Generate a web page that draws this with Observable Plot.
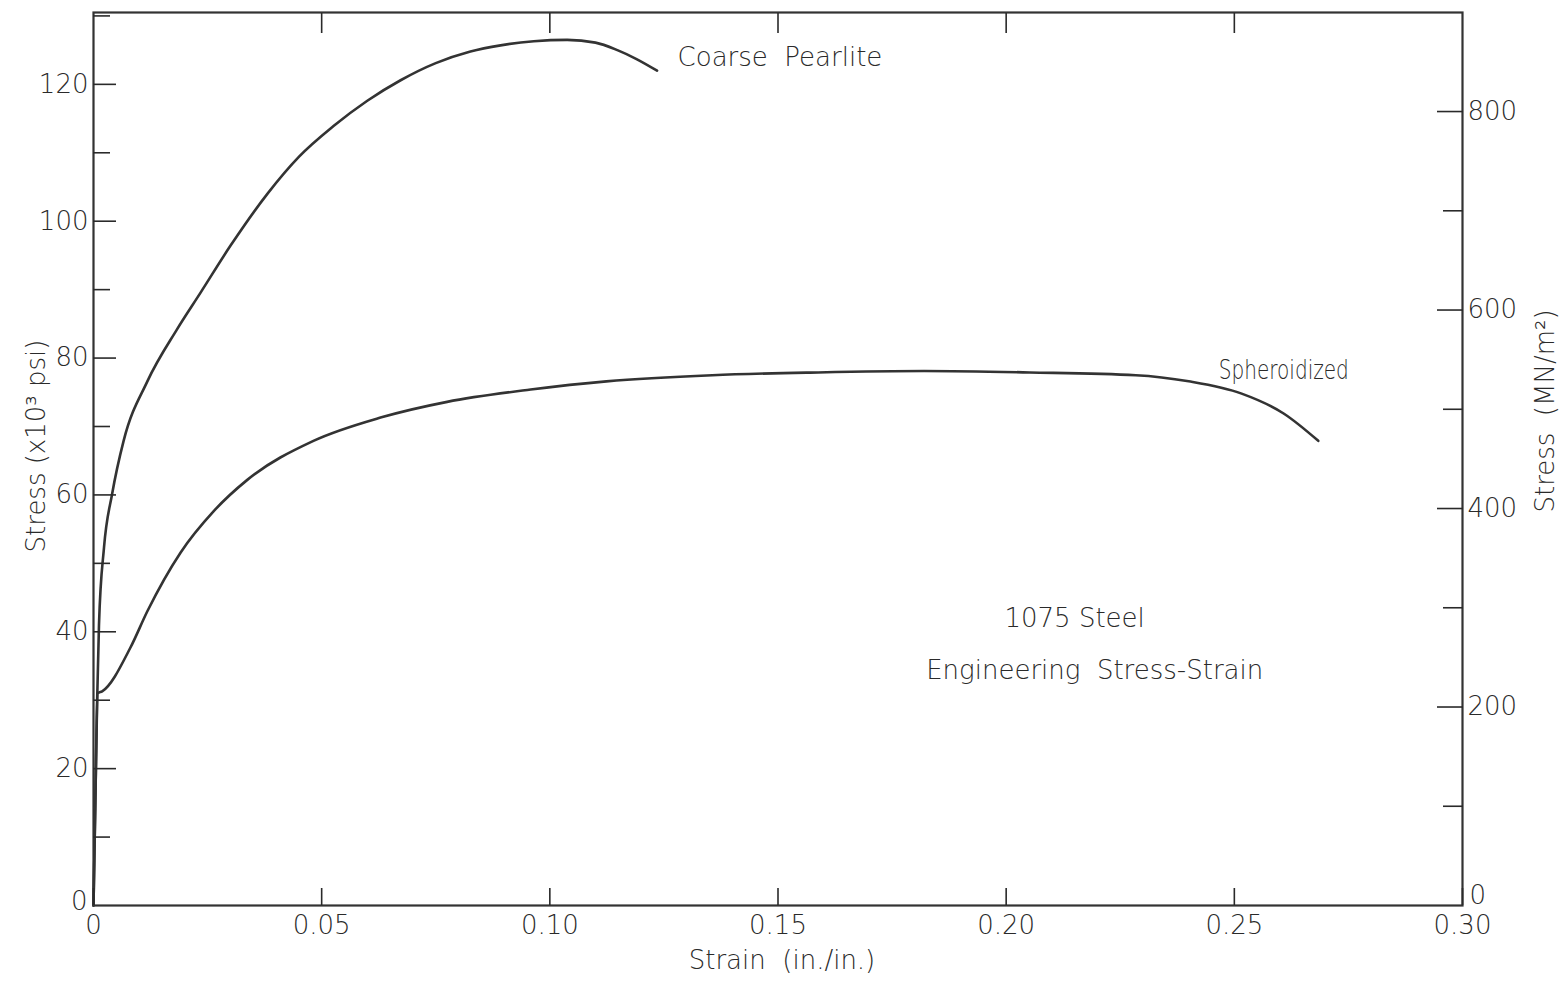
<!DOCTYPE html>
<html><head><meta charset="utf-8">
<script src="https://cdn.jsdelivr.net/npm/d3@7"></script>
<script src="https://cdn.jsdelivr.net/npm/@observablehq/plot@0.6"></script>
<style>body{margin:0;background:#fff;} svg{display:block;}</style>
</head><body><div id="chart"></div>
<script>
// Coarse Pearlite (strain in./in., stress ×10³ psi)
const coarseStrain = [0, 0.0004, 0.0008, 0.0012, 0.0023, 0.0041, 0.0066, 0.0118, 0.0183, 0.0235, 0.030, 0.0381, 0.045, 0.0526, 0.060, 0.0673, 0.075, 0.0826, 0.0892, 0.0965, 0.1038, 0.110, 0.1148, 0.119, 0.1235];
const coarseStress = [0, 15, 30, 41, 52.3, 60.2, 67.9, 76.6, 84.2, 89.6, 96.4, 104.0, 109.4, 113.9, 117.6, 120.6, 123.1, 124.8, 125.7, 126.3, 126.5, 126.1, 125.0, 123.7, 122.0];
// Spheroidized
const spherStrain = [0, 0.0004, 0.0009, 0.0019, 0.0081, 0.0118, 0.0191, 0.0263, 0.0337, 0.0482, 0.0629, 0.0775, 0.0958, 0.1124, 0.1356, 0.1588, 0.182, 0.2052, 0.2284, 0.240, 0.2516, 0.2608, 0.2684];
const spherStress = [0, 15, 31, 31.3, 37.7, 43.0, 51.6, 57.6, 62.2, 67.9, 71.3, 73.6, 75.4, 76.6, 77.5, 77.9, 78.1, 77.9, 77.5, 76.6, 74.8, 71.9, 67.9];

const xTicks = [0, 0.05, 0.10, 0.15, 0.20, 0.25, 0.30];
const xInnerTicks = [0.05, 0.10, 0.15, 0.20, 0.25];
const psiMajor = [0, 20, 40, 60, 80, 100, 120];
const psiMinor = [10, 30, 50, 70, 90, 110, 130];
const mpaMajor = [0, 200, 400, 600, 800];
const mpaMinor = [100, 300, 500, 700];
const MPA_PER_KSI = 6.895;

const rows = [
  ...coarseStrain.map((s, i) => ({series: "Coarse Pearlite", strain: s, stress: coarseStress[i]})),
  ...spherStrain.map((s, i) => ({series: "Spheroidized", strain: s, stress: spherStress[i]}))
];

const ink = "#2a2a2a";
const fs = 26;
const xfmt = d => d === 0 ? "0" : d.toFixed(2);

const chart = Plot.plot({
  width: 1568, height: 983,
  marginLeft: 93, marginRight: 106, marginTop: 12, marginBottom: 78,
  style: {fontFamily: "DejaVu Sans", fontSize: fs + "px", fontWeight: 200, color: ink, background: "white"},
  x: {domain: [0, 0.30]},
  y: {domain: [0, 130.5]},
  marks: [
    Plot.frame({stroke: "#333", strokeWidth: 2.2}),
    Plot.line(rows, {x: "strain", y: "stress", z: "series", stroke: "#333", strokeWidth: 2.6, curve: "monotone-x"}),
    // left axis (ksi)
    Plot.axisY(psiMajor.filter(v => v !== 0), {anchor: "left", tickSize: -23, tickPadding: 28, strokeWidth: 1.6, label: null, fontSize: fs}),
    Plot.axisY([0], {anchor: "left", tickSize: 0, tickPadding: 6, label: null, fontSize: fs, dy: -4}),
    Plot.axisY(psiMinor, {anchor: "left", tickSize: -17, tickPadding: 0, strokeWidth: 1.6, label: null, tickFormat: () => ""}),
    // right axis (MN/m^2)
    Plot.axisY(mpaMajor.filter(v => v !== 0).map(v => v / MPA_PER_KSI), {anchor: "right", tickSize: -26, tickPadding: 31, strokeWidth: 1.6, label: null, fontSize: fs, tickFormat: d => Math.round(d * MPA_PER_KSI)}),
    Plot.axisY([0], {anchor: "right", tickSize: 0, tickPadding: 7, label: null, fontSize: fs, dy: -10, tickFormat: () => "0"}),
    Plot.axisY(mpaMinor.map(v => v / MPA_PER_KSI), {anchor: "right", tickSize: -20, tickPadding: 0, strokeWidth: 1.6, label: null, tickFormat: () => ""}),
    // bottom axis
    Plot.axisX(xTicks, {anchor: "bottom", tickSize: -17, tickPadding: 27, strokeWidth: 1.6, label: null, fontSize: fs, tickFormat: xfmt}),
    // top ticks
    Plot.axisX(xInnerTicks, {anchor: "top", tickSize: -20, tickPadding: 0, strokeWidth: 1.6, label: null, tickFormat: () => ""}),
    // axis titles
    Plot.text(["Stress (x10³ psi)"], {frameAnchor: "left", textAnchor: "middle", rotate: -90, dx: -57, dy: -13, fontSize: fs, fill: ink}),
    Plot.text(["Stress\u00a0\u00a0(MN/m²)"], {frameAnchor: "right", textAnchor: "middle", rotate: -90, dx: 83, dy: -48, fontSize: fs, fill: ink}),
    Plot.text(["Strain\u00a0\u00a0(in./in.)"], {frameAnchor: "bottom", dx: 4, dy: 63, fontSize: fs, fill: ink}),
    // annotations
    Plot.text(["Coarse\u00a0\u00a0Pearlite"], {x: 0.128, y: 123.9, textAnchor: "start", fontSize: fs, fill: ink}),
    Plot.text(["Spheroidized"], {x: 0.2466, y: 78.2, textAnchor: "start", fontSize: fs, fill: ink, className: "sph"}),
    Plot.text(["1075 Steel"], {x: 0.215, y: 41.9, fontSize: fs, fill: ink}),
    Plot.text(["Engineering\u00a0\u00a0Stress-Strain"], {x: 0.2194, y: 34.3, fontSize: fs, fill: ink})
  ]
});
// condense the narrow "Spheroidized" lettering to its drawn width
chart.querySelectorAll(".sph text").forEach(t => {
  t.setAttribute("textLength", 130);
  t.setAttribute("lengthAdjust", "spacingAndGlyphs");
});
document.getElementById("chart").appendChild(chart);
</script>
</body></html>
